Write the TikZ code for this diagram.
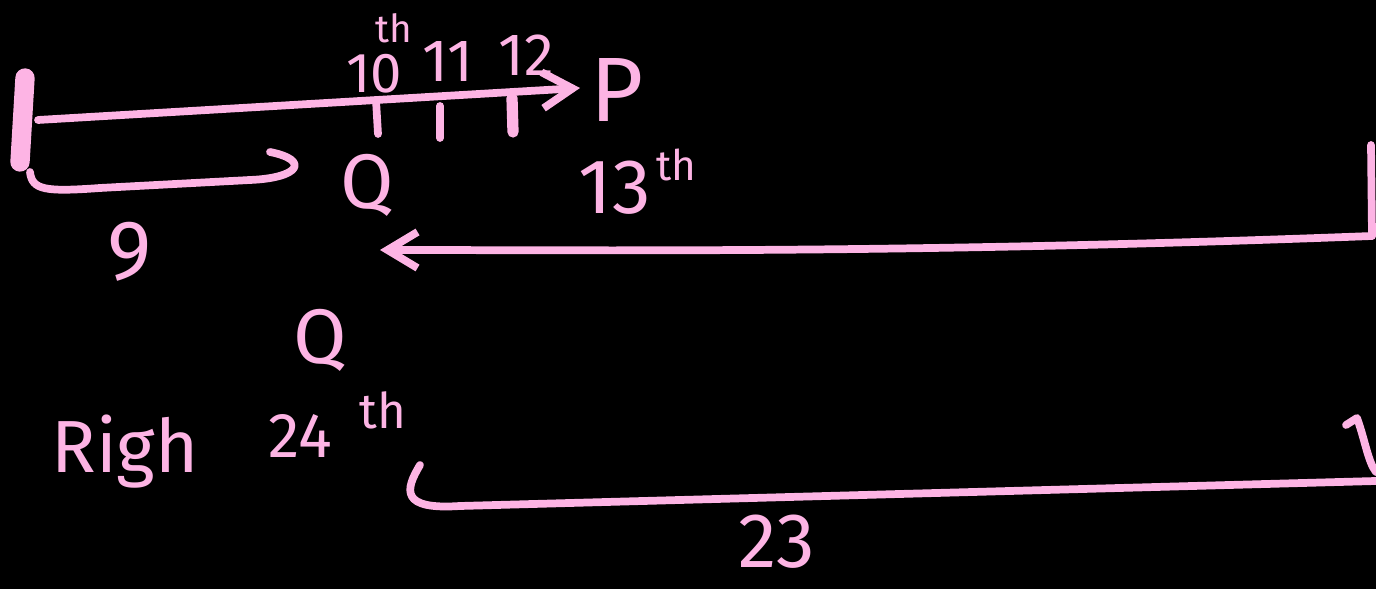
\documentclass[tikz,border=0pt]{standalone}
\usepackage{fontspec}
\setmainfont{Fira Sans}
\usetikzlibrary{arrows.meta}
\definecolor{ink}{HTML}{FDB4E4}
\tikzset{
  pen/.style={draw=ink, line width=2.2pt, line cap=round, line join=round},
  thickpen/.style={draw=ink, line width=4.5pt, line cap=round},
  barb/.style={-{Straight Barb[length=0.3cm, width=0.36cm, line width=2.2pt]}},
  lbl/.style={text=ink, inner sep=0pt, font=\fontsize{#1}{#1}\selectfont},
  lbl/.default=20
}
\begin{document}
\begin{tikzpicture}[x=0.01cm, y=-0.01cm]
\fill[black] (0,0) rectangle (1376,589);
\useasboundingbox (0,0) rectangle (1376,589);

% left bar and top arrow
\coordinate (lt) at (25,78);
\coordinate (lb) at (20,162);
\draw[thickpen, line width=5.5pt] (lt) -- (lb);
\coordinate (astart) at (38,120);
\coordinate (aend) at (580,88);
\draw[pen, barb] (astart) -- (aend);

% ticks
\coordinate (t1a) at (376,100); \coordinate (t1b) at (378,134);
\draw[pen] (t1a) -- (t1b);
\coordinate (t2a) at (440,106); \coordinate (t2b) at (440,138);
\draw[pen] (t2a) -- (t2b);
\coordinate (t3a) at (512,98); \coordinate (t3b) at (513,132);
\draw[thickpen, line width=3.2pt] (t3a) -- (t3b);

\node[lbl=16] (ten) at (374,74) {10};
\node[lbl=11] (tenth) at (394,28) {th};
\node[lbl=17] (eleven) at (448,62) {11};
\node[lbl=17] (twelve) at (526,55) {12};
\node[lbl=26] (P) at (617,90) {P};

% 9 bracket
\coordinate (b9s) at (30,172);
\coordinate (b9e) at (270,152);
\draw[pen] (b9s) .. controls (32,190) and (45,192) .. (100,188)
  -- (250,180) .. controls (300,178) and (310,160) .. (b9e);
\node[lbl=24] (nine) at (130,252) {9};

\node[lbl=22] (Q1) at (367,185) {Q};
\node[lbl=22] (thirteen) at (615,188) {13};
\node[lbl=12] (th13) at (676,165) {th};

% right bar and long left arrow
\coordinate (rt) at (1371,145);
\coordinate (rb) at (1372,236);
\draw[pen] (rt) -- (rb);
\draw[pen, barb] (rb) .. controls (900,254) and (600,250) .. (380,250);

% lower labels
\node[lbl=22] (Q2) at (320,340) {Q};
\node[lbl=21] (righ) at (125,452) {Righ};
\node[lbl=18] (tf) at (300,436) {24};
\node[lbl=14] (tfth) at (383,410) {th};

% 23 bracket
\coordinate (b23s) at (420,465);
\coordinate (b23e) at (1376,481);
\draw[pen] (b23s) .. controls (405,490) and (400,510) .. (460,506)
  -- (b23e);
\coordinate (hk) at (1346,425);
\draw[pen] (hk) -- (1357,418) .. controls (1365,440) and (1368,462) .. (1376,472);
\node[lbl=22] (tt) at (777,542) {23};
\end{tikzpicture}
\end{document}
